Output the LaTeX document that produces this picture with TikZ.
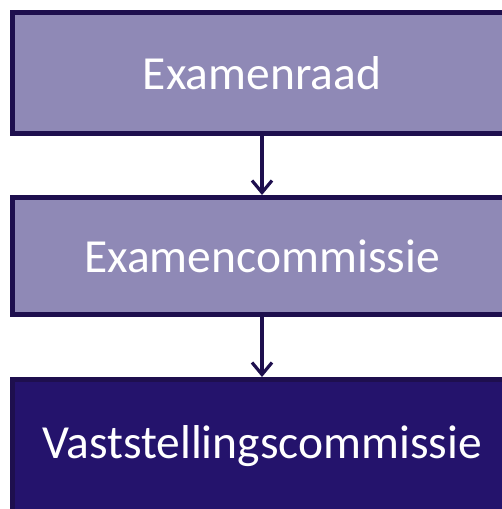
\documentclass[tikz,border=0pt]{standalone}
\usepackage{fontspec}
\setmainfont{Carlito}
\usetikzlibrary{shapes, arrows.meta, positioning}

\definecolor{lila}{HTML}{8F89B6}
\definecolor{donker}{HTML}{24136C}
\definecolor{rand}{HTML}{1E0F4E}

\begin{document}
\begin{tikzpicture}[
  x=1pt, y=1pt,
  box/.style={rectangle, draw=rand, line width=5pt, fill=lila,
    minimum width=499pt, text=white, font=\fontsize{47.5}{57}\selectfont},
  pijl/.style={draw=rand, line width=3.2pt,
    -{Straight Barb[length=12pt, width=20pt, line width=3.2pt]}}]

  \useasboundingbox (0,0) rectangle (502,-509);

  \node[box, minimum height=121pt] (raad) at (262,-73) {Examenraad};
  \node[box, minimum height=117pt, below=59pt of raad] (commissie) {Examencommissie};
  % onderkant valt buiten het beeld
  \node[box, fill=donker, inner ysep=0pt, text height=78.5pt, text depth=80pt,
    below=60pt of commissie] (vast) {Vaststellingscommissie};

  \draw[pijl] (raad) -- (commissie);
  \draw[pijl] (commissie) -- (vast);
\end{tikzpicture}
\end{document}
